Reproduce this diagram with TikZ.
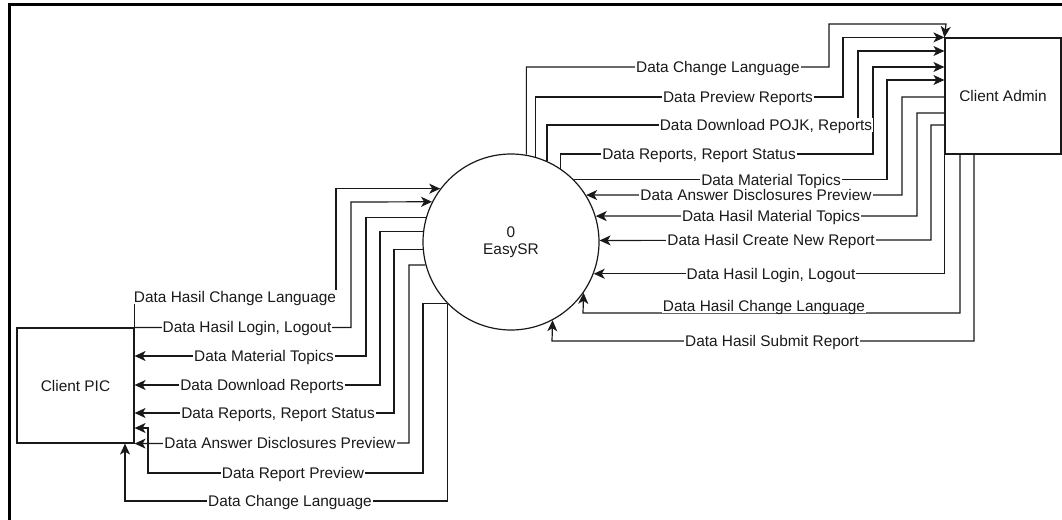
\documentclass[tikz,border=0pt]{standalone}
\usepackage{fontspec}
\setmainfont{Liberation Sans}
\usetikzlibrary{arrows.meta}
\definecolor{ink}{RGB}{25,25,25}
\begin{document}
\begin{tikzpicture}[x=1pt,y=-1pt,
  every node/.style={font=\fontsize{15.4}{18}\selectfont, text=ink},
  flow/.style={draw=ink, line width=1.2pt, line join=miter},
  arr/.style={flow, -{Stealth[length=11pt,width=10pt,inset=3pt]}},
  lbl/.style={fill=white, inner xsep=1pt, inner ysep=1.5pt, text height=11pt, text depth=0pt},
  ent/.style={draw=ink, line width=1.2pt, minimum width=116pt, minimum height=116pt, inner sep=0pt},
  proc/.style={draw=ink, line width=1.2pt, circle, minimum size=176pt, inner sep=0pt, align=center}]
\useasboundingbox (0,0) rectangle (1062,519);
\draw[line width=3pt, black] (1070,5) -- (9,5) -- (9,525);

\node[proc] (ez) at (511,242) {0\\[-1pt]EasySR};
\node[ent] (admin) at (1003,96) {Client Admin};
\node[ent, minimum width=117pt, minimum height=115pt] (pic) at (75.5,385.5) {Client PIC};

% circle -> Client Admin
\draw[arr] (ez.80.85) |- (829,67) |- (946,24) -- (admin.north west);
\draw[arr] (ez.74.85) |- (843,97) |- (admin.north west);
\draw[arr] (ez.66.57) |- (858,125) |- (admin.west |- 0,51);
\draw[arr] (ez.56.94) |- (873,154) |- (admin.west |- 0,67);
\draw[arr] (ez.45.7) -| (887,80) -- (admin.west |- 0,80);
% Client Admin -> circle
\draw[arr] (admin.west |- 0,97) -| (902,195) -- (ez.32.3);
\draw[arr] (admin.west |- 0,113) -| (917,216) -- (ez.17.2);
\draw[arr] (admin.west |- 0,125) -| (931,240) -- (ez.1.3);
\draw[arr] (admin.south west) |- (ez.-21.3);
\draw[arr] (admin.south -| 960,0) |- (583,313) -- (ez.-35.1);
\draw[arr] (admin.south -| 974,0) |- (552,341) -- (ez.-62.2);

% Client PIC -> circle
\draw[arr] (pic.north east) |- (336,297) |- (ez.143.0);
\draw[arr] (pic.north east) -| (351,202) -- (ez.153.0);
% circle -> Client PIC
\draw[arr] (ez.164.8) -| (366,356) -- (pic.east |- 0,356);
\draw[arr] (ez.173.5) -| (380,385) -- (pic.east |- 0,385);
\draw[arr] (ez.185.9) -| (394,413) -- (pic.east |- 0,413);
\draw[arr] (ez.195.8) -| (409,443) -- (pic.south east);
\draw[arr] (ez.224.3) -| (423,473) -| (148,428) -- (pic.east |- 0,428);
\draw[arr] (ez.224.3) |- (125,501) -- (pic.south -| 125,0);

% labels right
\node[lbl] (l1) at (718,67) {Data Change Language};
\node[lbl] (l2) at (738,97) {Data Preview Reports};
\node[lbl] (l3) at (766,125) {Data Download POJK, Reports};
\node[lbl] (l4) at (699,154) {Data Reports, Report Status};
\node[lbl] (l5) at (771,180) {Data Material Topics};
\node[lbl] (l6) at (756,195) {Data Answer Disclosures Preview};
\node[lbl] (l7) at (771,216) {Data Hasil Material Topics};
\node[lbl] (l8) at (771,240) {Data Hasil Create New Report};
\node[lbl] (l9) at (771,274) {Data Hasil Login, Logout};
\node[lbl] (l10) at (764,306) {Data Hasil Change Language};
\node[lbl] (l11) at (772,341) {Data Hasil Submit Report};
% labels left
\node[lbl] (m1) at (235,297) {Data Hasil Change Language};
\node[lbl] (m2) at (247,327) {Data Hasil Login, Logout};
\node[lbl] (m3) at (264,356) {Data Material Topics};
\node[lbl] (m4) at (262,385) {Data Download Reports};
\node[lbl] (m5) at (278,413) {Data Reports, Report Status};
\node[lbl] (m6) at (280,443) {Data Answer Disclosures Preview};
\node[lbl] (m7) at (293,473) {Data Report Preview};
\node[lbl] (m8) at (290,501) {Data Change Language};
\end{tikzpicture}
\end{document}
